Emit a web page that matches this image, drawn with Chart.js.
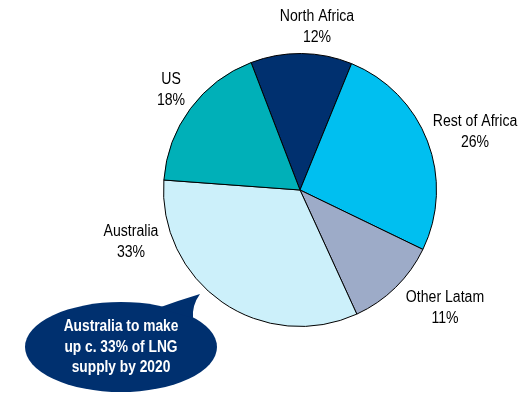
<!DOCTYPE html>
<html>
<head>
<meta charset="utf-8">
<script src="https://cdn.jsdelivr.net/npm/chart.js@4.4.1/dist/chart.umd.min.js"></script>
<style>
  html, body { margin: 0; padding: 0; background: #ffffff; }
  #wrap { width: 529px; height: 394px; position: relative; }
</style>
</head>
<body>
<div id="wrap"><canvas id="c" width="529" height="394"></canvas></div>
<script>
// LNG supply share by source region
const regions = ['North Africa', 'Rest of Africa', 'Other Latam', 'Australia', 'US'];
const shares = [12, 26, 11, 33, 18];
const sliceColors = ['#00306F', '#00BFF0', '#9DABC8', '#CCF0FA', '#00B0B8'];
const calloutLines = ['Australia to make', 'up c. 33% of LNG', 'supply by 2020'];

const FONT_FAMILY = '"Liberation Sans", Arial, sans-serif';

// Draws text squeezed horizontally to give a narrow face
function narrowText(ctx, text, x, y, squeeze) {
  ctx.save();
  ctx.translate(x, y);
  ctx.scale(squeeze, 1);
  ctx.fillText(text, 0, 0);
  ctx.restore();
}

// Where each region's name and share are printed (centre of the two-line label)
const labelSpots = [
  { x: 317, y: 27 },
  { x: 475, y: 132 },
  { x: 445, y: 308 },
  { x: 131, y: 242 },
  { x: 171, y: 90 }
];

const sliceLabels = {
  id: 'sliceLabels',
  afterDatasetsDraw(chart) {
    const ctx = chart.ctx;
    ctx.save();
    ctx.fillStyle = '#000000';
    ctx.font = '16px ' + FONT_FAMILY;
    ctx.textAlign = 'center';
    ctx.textBaseline = 'middle';
    regions.forEach((name, i) => {
      const p = labelSpots[i];
      narrowText(ctx, name, p.x, p.y - 10, 0.88);
      narrowText(ctx, shares[i] + '%', p.x, p.y + 11, 0.88);
    });
    ctx.restore();
  }
};

// Speech bubble pointing at the Australia slice
const callout = {
  id: 'callout',
  afterDraw(chart) {
    const ctx = chart.ctx;
    const cx = 121, cy = 347, rx = 96, ry = 45;
    ctx.save();
    ctx.fillStyle = '#00306F';
    ctx.beginPath();
    ctx.ellipse(cx, cy, rx, ry, 0, 0, Math.PI * 2);
    ctx.fill();
    ctx.beginPath();
    ctx.moveTo(158, 308);
    ctx.quadraticCurveTo(180, 300, 200, 294);
    ctx.quadraticCurveTo(192, 305, 193, 318);
    ctx.closePath();
    ctx.fill();
    ctx.fillStyle = '#ffffff';
    ctx.font = 'bold 16px ' + FONT_FAMILY;
    ctx.textAlign = 'center';
    ctx.textBaseline = 'middle';
    calloutLines.forEach((t, i) => narrowText(ctx, t, 121, 327 + i * 20.5, 0.86));
    ctx.restore();
  }
};

new Chart(document.getElementById('c'), {
  type: 'pie',
  data: {
    labels: regions,
    datasets: [{
      data: shares,
      backgroundColor: sliceColors,
      borderColor: '#000000',
      borderWidth: 1
    }]
  },
  options: {
    responsive: false,
    animation: false,
    rotation: -21,
    layout: { padding: { top: 53, bottom: 67, left: 163, right: 92 } },
    plugins: {
      legend: { display: false },
      tooltip: { enabled: false }
    }
  },
  plugins: [sliceLabels, callout]
});
</script>
</body>
</html>
